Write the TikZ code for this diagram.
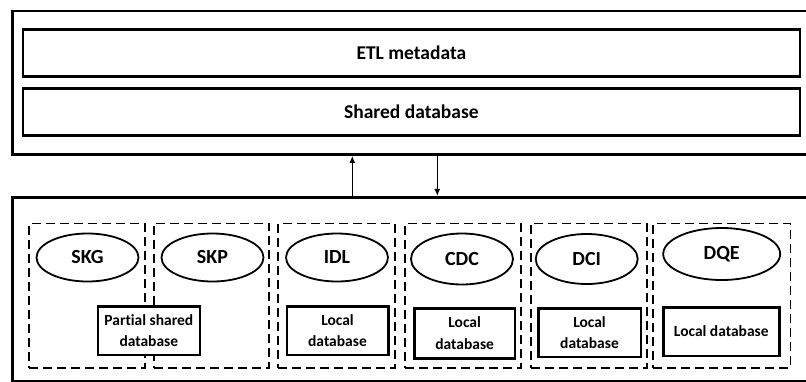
\documentclass[tikz,border=0pt]{standalone}
\usepackage{fontspec}
\setmainfont{Carlito}[Ligatures=NoCommon]
\usetikzlibrary{shapes.geometric,arrows.meta}
\begin{document}
\begin{tikzpicture}[x=1pt,y=-1pt,
  panel/.style={draw,line width=2.7pt,rectangle,inner sep=0pt},
  layer/.style={draw,line width=2.5pt,rectangle,inner sep=0pt,
    minimum width=777pt,minimum height=47pt,
    font=\fontsize{19.5}{22}\selectfont\bfseries},
  module/.style={draw,line width=1.8pt,dash pattern=on 9pt off 5pt,
    rectangle,inner sep=0pt,minimum height=144.5pt},
  proc/.style={draw,line width=1.8pt,ellipse,inner sep=0pt,
    minimum width=102pt,minimum height=48pt,
    font=\fontsize{20}{22}\selectfont\bfseries},
  store/.style={draw,line width=2.4pt,rectangle,fill=white,inner sep=0pt,
    minimum height=48.4pt,align=center,
    font=\fontsize{15.5}{21.5}\selectfont\bfseries},
  flow/.style={line width=1.3pt,-{Latex[length=7pt,width=6pt]}}]
\useasboundingbox (0,0) rectangle (806,381);

% upper tier: metadata and shared database
\node[panel,minimum width=799.5pt,minimum height=143.5pt] (top) at (412.25,82.75) {};
\node[layer] (etl) at (411.35,53) {ETL metadata};
\node[layer] (shared) at (411.35,112) {Shared database};

% lower tier: processing modules
\node[panel,minimum width=799.5pt,minimum height=183.7pt] (bot) at (412.25,289.15) {};

% exchange between the two tiers
\coordinate (xup) at (352.3,0);
\coordinate (xdn) at (437.3,0);
\draw[flow] (xup |- bot.north) -- (xup |- top.south);
\draw[flow] (xdn |- top.south) -- (xdn |- bot.north);

% module frames
\node[module,minimum width=115.7pt] (mskg) at (87.15,295.75) {};
\node[module,minimum width=115.3pt] (mskp) at (211.65,295.75) {};
\node[module,minimum width=116.7pt] (midl) at (336.65,295.75) {};
\node[module,minimum width=115.7pt] (mcdc) at (462.85,295.75) {};
\node[module,minimum width=116pt] (mdci) at (588.7,295.75) {};
\node[module,minimum width=137.2pt] (mdqe) at (721.9,295.75) {};

% module processes
\node[proc] (skg) at (87.5,257.5) {SKG};
\node[proc] (skp) at (212.5,257.5) {SKP};
\node[proc] (idl) at (337,257.5) {IDL};
\node[proc,minimum height=51pt] (cdc) at (462,259) {CDC};
\node[proc,minimum height=50pt] (dci) at (586.7,259) {DCI};
\node[proc,minimum width=117pt,minimum height=52pt] (dqe) at (721.7,254) {DQE};

% module storage
\node[store,minimum width=102.3pt] (psdb) at (148.85,330.85) {Partial shared\\database};
\node[store,minimum width=101.6pt] (ldb1) at (337.5,330.85) {Local\\database};
\node[store,minimum width=100.7pt,minimum height=50pt] (ldb2) at (464.65,333.3) {Local\\database};
\node[store,minimum width=102.4pt] (ldb3) at (589.5,332.5) {Local\\database};
\node[store,minimum width=116pt] (ldb4) at (721.3,331.5) {Local database};
\end{tikzpicture}
\end{document}
